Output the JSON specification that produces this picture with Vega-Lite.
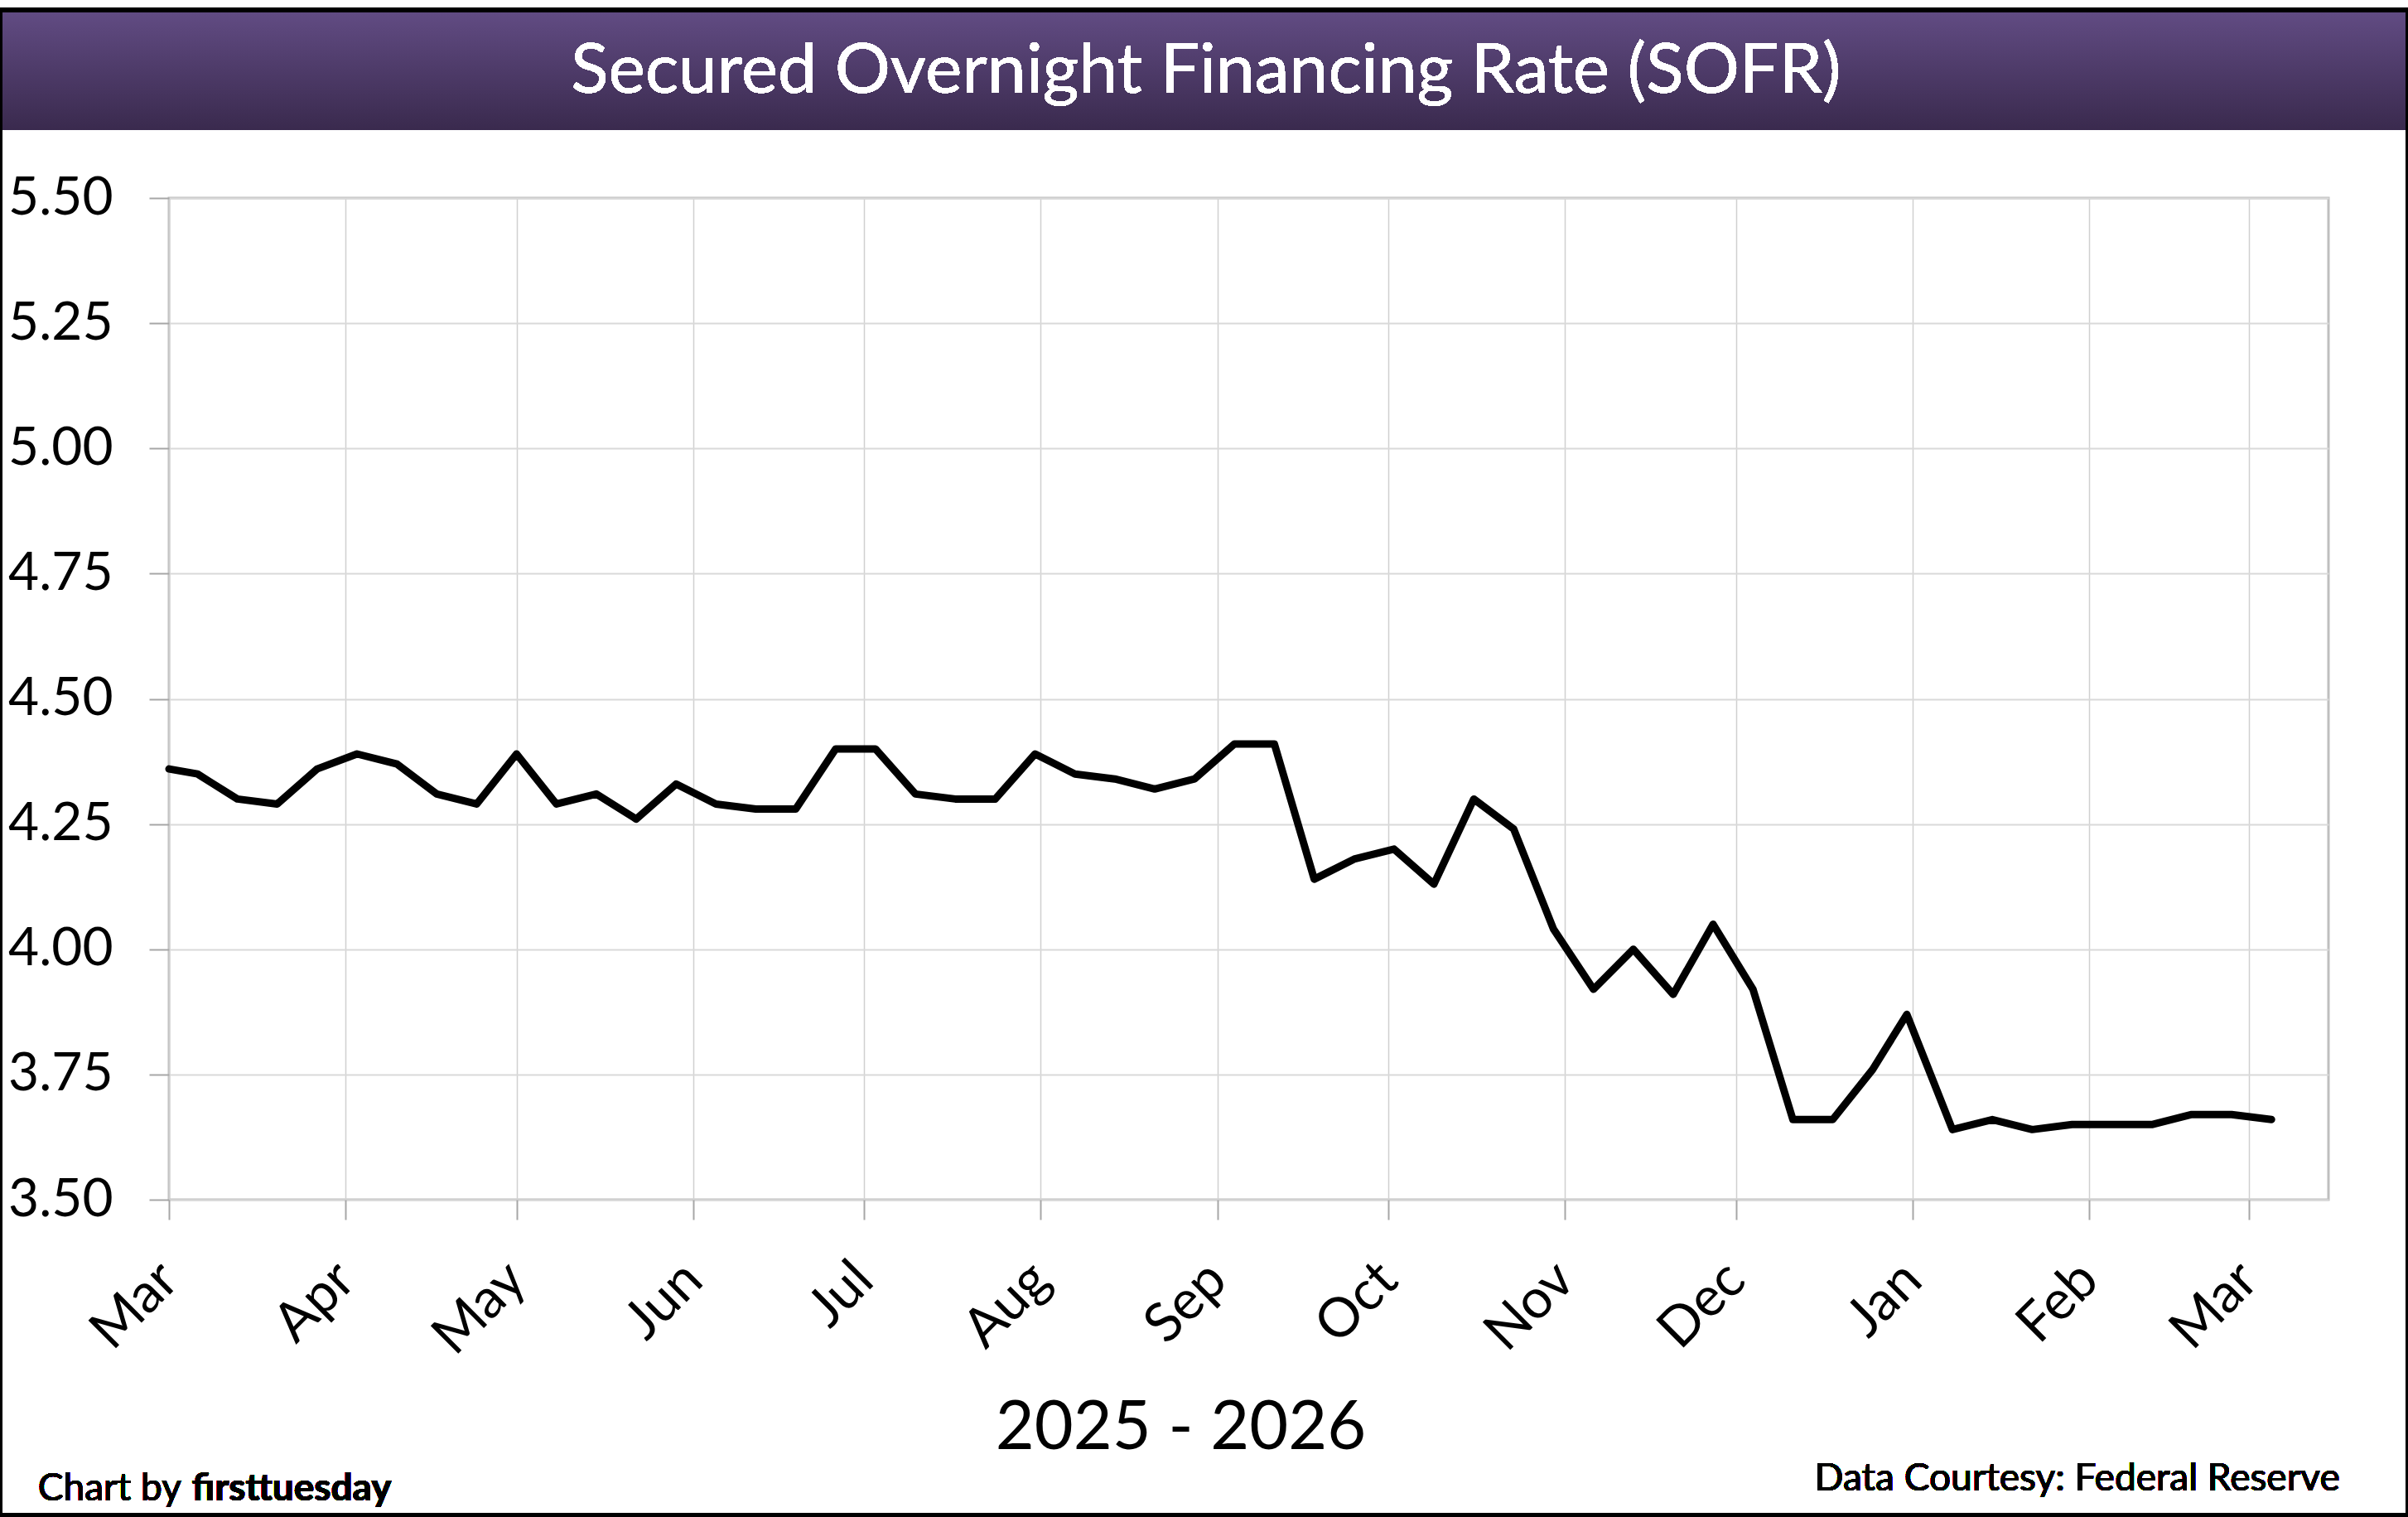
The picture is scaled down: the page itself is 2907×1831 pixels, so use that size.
{
  "$schema": "https://vega.github.io/schema/vega-lite/v6.json",
  "width": 2607,
  "height": 1209,
  "autosize": {"type": "none"},
  "padding": {"left": 204, "top": 239, "right": 96, "bottom": 383},
  "background": "white",
  "config": {
    "view": {"stroke": "#bfbfbf", "strokeWidth": 3},
    "font": "Lato"
  },
  "data": {
    "values": [
      {"date": "2025-03-01", "rate": 4.36},
      {"date": "2025-03-06", "rate": 4.35},
      {"date": "2025-03-13", "rate": 4.30},
      {"date": "2025-03-20", "rate": 4.29},
      {"date": "2025-03-27", "rate": 4.36},
      {"date": "2025-04-03", "rate": 4.39},
      {"date": "2025-04-10", "rate": 4.37},
      {"date": "2025-04-17", "rate": 4.31},
      {"date": "2025-04-24", "rate": 4.29},
      {"date": "2025-05-01", "rate": 4.39},
      {"date": "2025-05-08", "rate": 4.29},
      {"date": "2025-05-15", "rate": 4.31},
      {"date": "2025-05-22", "rate": 4.26},
      {"date": "2025-05-29", "rate": 4.33},
      {"date": "2025-06-05", "rate": 4.29},
      {"date": "2025-06-12", "rate": 4.28},
      {"date": "2025-06-19", "rate": 4.28},
      {"date": "2025-06-26", "rate": 4.40},
      {"date": "2025-07-03", "rate": 4.40},
      {"date": "2025-07-10", "rate": 4.31},
      {"date": "2025-07-17", "rate": 4.30},
      {"date": "2025-07-24", "rate": 4.30},
      {"date": "2025-07-31", "rate": 4.39},
      {"date": "2025-08-07", "rate": 4.35},
      {"date": "2025-08-14", "rate": 4.34},
      {"date": "2025-08-21", "rate": 4.32},
      {"date": "2025-08-28", "rate": 4.34},
      {"date": "2025-09-04", "rate": 4.41},
      {"date": "2025-09-11", "rate": 4.41},
      {"date": "2025-09-18", "rate": 4.14},
      {"date": "2025-09-25", "rate": 4.18},
      {"date": "2025-10-02", "rate": 4.20},
      {"date": "2025-10-09", "rate": 4.13},
      {"date": "2025-10-16", "rate": 4.30},
      {"date": "2025-10-23", "rate": 4.24},
      {"date": "2025-10-30", "rate": 4.04},
      {"date": "2025-11-06", "rate": 3.92},
      {"date": "2025-11-13", "rate": 4.00},
      {"date": "2025-11-20", "rate": 3.91},
      {"date": "2025-11-27", "rate": 4.05},
      {"date": "2025-12-04", "rate": 3.92},
      {"date": "2025-12-11", "rate": 3.66},
      {"date": "2025-12-18", "rate": 3.66},
      {"date": "2025-12-25", "rate": 3.76},
      {"date": "2025-12-31", "rate": 3.87},
      {"date": "2026-01-08", "rate": 3.64},
      {"date": "2026-01-15", "rate": 3.66},
      {"date": "2026-01-22", "rate": 3.64},
      {"date": "2026-01-29", "rate": 3.65},
      {"date": "2026-02-05", "rate": 3.65},
      {"date": "2026-02-12", "rate": 3.65},
      {"date": "2026-02-19", "rate": 3.67},
      {"date": "2026-02-26", "rate": 3.67},
      {"date": "2026-03-05", "rate": 3.66}
    ]
  },
  "layer": [
    {
      "mark": {
        "type": "line",
        "color": "black",
        "strokeWidth": 9,
        "strokeJoin": "round",
        "strokeCap": "round"
      },
      "encoding": {
        "x": {
          "field": "date",
          "type": "temporal",
          "scale": {
            "type": "utc",
            "domain": [
              {"year": 2025, "month": 3, "date": 1, "utc": true},
              {"year": 2026, "month": 3, "date": 15, "utc": true}
            ],
            "nice": false
          },
          "axis": {
            "title": "2025 - 2026",
            "titleFontSize": 81,
            "titleFontWeight": "normal",
            "titleColor": "black",
            "titleX": 1221,
            "titleY": 276,
            "titleBaseline": "middle",
            "titleAlign": "center",
            "tickCount": {"interval": "month", "step": 1},
            "format": "%b",
            "labelAngle": -45,
            "labelAlign": "right",
            "labelBaseline": "middle",
            "labelFontSize": 66,
            "labelColor": "black",
            "labelPadding": 62,
            "labelOverlap": false,
            "labelFlush": false,
            "tickSize": 24,
            "tickColor": "#a6a6a6",
            "tickWidth": 2,
            "domain": false,
            "grid": true,
            "gridColor": "#d0d0d0",
            "gridWidth": 1.5
          }
        },
        "y": {
          "field": "rate",
          "type": "quantitative",
          "scale": {"domain": [3.5, 5.5], "nice": false, "zero": false},
          "axis": {
            "title": null,
            "values": [3.5, 3.75, 4.0, 4.25, 4.5, 4.75, 5.0, 5.25, 5.5],
            "format": ".2f",
            "labelFontSize": 64,
            "labelColor": "black",
            "labelPadding": 44,
            "tickSize": 24,
            "tickColor": "#a6a6a6",
            "tickWidth": 2,
            "domain": false,
            "grid": true,
            "gridColor": "#d9d9d9",
            "gridWidth": 2
          }
        }
      }
    },
    {
      "mark": {
        "type": "rect",
        "color": {
          "gradient": "linear",
          "x1": 0, "y1": 0, "x2": 0, "y2": 1,
          "stops": [
            {"offset": 0, "color": "#624c84"},
            {"offset": 1, "color": "#3a2a4e"}
          ]
        },
        "clip": false
      },
      "encoding": {
        "x": {"datum": {"year": 2025, "month": 1, "date": 29, "utc": true}, "type": "temporal"},
        "x2": {"datum": {"year": 2026, "month": 3, "date": 31, "utc": true}},
        "y": {"datum": 5.8755, "type": "quantitative"},
        "y2": {"datum": 5.637}
      }
    },
    {
      "mark": {
        "type": "text",
        "text": "Secured Overnight Financing Rate (SOFR)",
        "color": "white",
        "fontSize": 84,
        "align": "center",
        "baseline": "middle",
        "clip": false
      },
      "encoding": {
        "x": {"datum": {"year": 2025, "month": 8, "date": 30, "utc": true}, "type": "temporal"},
        "y": {"datum": 5.751, "type": "quantitative"}
      }
    },
    {
      "mark": {"type": "text", "text": "Chart by", "fontSize": 46, "align": "left", "baseline": "middle", "color": "black", "clip": false},
      "encoding": {
        "x": {"datum": {"year": 2025, "month": 2, "date": 6, "utc": true}, "type": "temporal"},
        "y": {"datum": 2.923, "type": "quantitative"}
      }
    },
    {
      "mark": {"type": "text", "text": "firsttuesday", "fontSize": 46, "fontWeight": "bold", "align": "left", "baseline": "middle", "color": "black", "clip": false},
      "encoding": {
        "x": {"datum": {"year": 2025, "month": 3, "date": 5, "utc": true}, "type": "temporal"},
        "y": {"datum": 2.923, "type": "quantitative"}
      }
    },
    {
      "mark": {"type": "text", "text": "Data Courtesy: Federal Reserve", "fontSize": 46, "align": "right", "baseline": "middle", "color": "black", "clip": false},
      "encoding": {
        "x": {"datum": {"year": 2026, "month": 3, "date": 17, "utc": true}, "type": "temporal"},
        "y": {"datum": 2.9425, "type": "quantitative"}
      }
    },
    {
      "mark": {"type": "rect", "fill": null, "stroke": "black", "strokeWidth": 5, "clip": false},
      "encoding": {
        "x": {"datum": {"year": 2025, "month": 1, "date": 30, "hours": 8, "utc": true}, "type": "temporal"},
        "x2": {"datum": {"year": 2026, "month": 3, "date": 28, "hours": 22, "utc": true}},
        "y": {"datum": 5.8755, "type": "quantitative"},
        "y2": {"datum": 2.8697}
      }
    }
  ]
}
